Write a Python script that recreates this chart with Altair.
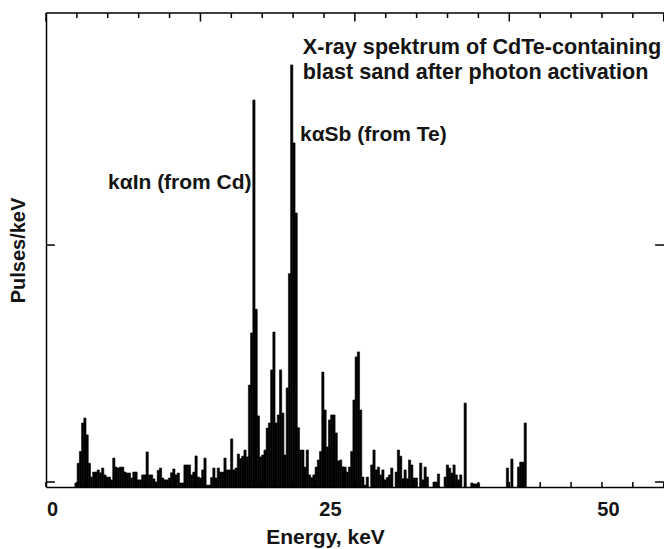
import altair as alt
import pandas as pd

# ---- data -------------------------------------------------------------
E0 = 2.4          # energy of first channel, keV
DE = 0.2          # channel width, keV
COUNTS = [
    0, 17, 100, 150, 270, 291, 220, 100, 42, 63,
    63, 72, 60, 80, 51, 42, 42, 30, 122, 84,
    80, 84, 84, 63, 59, 59, 38, 63, 63, 30,
    30, 51, 51, 148, 51, 51, 34, 21, 70, 80,
    38, 30, 30, 38, 60, 76, 51, 59, 17, 17,
    93, 93, 93, 51, 63, 131, 42, 38, 72, 122,
    8, 8, 40, 80, 38, 80, 63, 63, 122, 72,
    72, 203, 72, 80, 139, 120, 130, 156, 127, 430,
    650, 1633, 750, 300, 127, 135, 156, 249, 270, 494,
    654, 270, 304, 494, 312, 135, 418, 900, 1781, 1452,
    1156, 250, 156, 156, 84, 156, 51, 40, 51, 84,
    114, 150, 485, 325, 169, 283, 304, 304, 228, 110,
    114, 85, 84, 63, 84, 150, 367, 549, 570, 325,
    42, 8, 42, 0, 93, 156, 72, 84, 51, 72,
    30, 40, 51, 80, 0, 63, 156, 130, 35, 72,
    35, 114, 93, 38, 38, 0, 101, 30, 84, 42,
    0, 0, 21, 21, 55, 0, 0, 42, 93, 80,
    59, 93, 51, 30, 51, 0, 354, 0, 0, 17,
    13, 13, 17, 0, 0, 0, 0, 0, 0, 0,
    0, 0, 0, 0, 0, 80, 0, 118, 0, 0,
    84, 105, 105, 270, 0,
]
X_LABELS = [0, 25, 50]
Y_TICKS = [21, 1021]
X_MAX = 55.58
Y_MAX = 2000
TICK_STEP = 25 / 9
N_TICKS = 21

TITLE_1 = "X-ray spektrum of CdTe-containing"
TITLE_2 = "blast sand after photon activation"
LABEL_SB = "kαSb (from Te)"
LABEL_IN = "kαIn (from Cd)"

FONT = "Liberation Sans"
INK = "#141414"

# ---- tables -----------------------------------------------------------
bars_df = pd.DataFrame({
    "e0": [E0 + i * DE for i in range(len(COUNTS))],
    "counts": COUNTS,
})
bars_df["e1"] = bars_df["e0"] + DE
bars_df = bars_df[bars_df["counts"] > 0]

vt_rows = []
for k in range(N_TICKS):
    x = k * TICK_STEP
    ln = 36 if k % 5 == 0 else 21
    vt_rows.append({"x": x, "y": Y_MAX, "y2": Y_MAX - ln})
    vt_rows.append({"x": x, "y": 0, "y2": 21})
vt_df = pd.DataFrame(vt_rows)

ht_rows = [{"y": Y_MAX, "x": 0, "x2": X_MAX}]
for yv in Y_TICKS:
    ht_rows.append({"y": yv, "x": 0, "x2": 0.8})
    ht_rows.append({"y": yv, "x": X_MAX - 0.8, "x2": X_MAX})
ht_df = pd.DataFrame(ht_rows)

x_scale = alt.Scale(domain=[0, X_MAX], nice=False, zero=False)
y_scale = alt.Scale(domain=[0, Y_MAX], nice=False)

bars = alt.Chart(bars_df).mark_bar(
    color="black", stroke="black", strokeWidth=0.6
).encode(
    x=alt.X("e0:Q", scale=x_scale, axis=alt.Axis(
        values=X_LABELS, format="d", title="Energy, keV",
        ticks=False, tickSize=0, grid=False,
        labelFont=FONT, labelFontSize=20, labelFontWeight="bold",
        labelColor=INK, labelOffset=6, labelPadding=28,
        labelBaseline="alphabetic",
        labelFlush=False, labelOverlap=False, labelBound=False,
        domainColor="black", domainWidth=1.5,
        titleFont=FONT, titleFontSize=21, titleFontWeight="bold",
        titleColor=INK, titleX=279, titleY=56,
        titleBaseline="alphabetic",
    )),
    x2="e1:Q",
    y=alt.Y("counts:Q", scale=y_scale, axis=alt.Axis(
        values=Y_TICKS, labels=False, ticks=False, tickSize=0, grid=False,
        domainColor="black", domainWidth=1.5,
        title="Pulses/keV", titleFont=FONT, titleFontSize=20,
        titleFontWeight="bold", titleColor=INK,
        titleAngle=270, titleX=-28, titleY=237, titleBaseline="middle",
        titleAlign="center",
    )),
    y2=alt.datum(0),
)

vticks = alt.Chart(vt_df).mark_rule(color="black", strokeWidth=1.5).encode(
    x=alt.X("x:Q", scale=x_scale),
    y=alt.Y("y:Q", scale=y_scale),
    y2="y2:Q",
)
hticks = alt.Chart(ht_df).mark_rule(color="black", strokeWidth=1.5).encode(
    x=alt.X("x:Q", scale=x_scale),
    x2="x2:Q",
    y=alt.Y("y:Q", scale=y_scale),
)


def note(text, ex, cy, size):
    return alt.Chart(pd.DataFrame({"t": [text]})).mark_text(
        font=FONT, fontSize=size, fontWeight="bold", color=INK,
        align="left", baseline="middle",
    ).encode(
        x=alt.XDatum(ex, scale=x_scale),
        y=alt.YDatum(cy, scale=y_scale),
        text="t:N",
    )


chart = alt.layer(
    bars, vticks, hticks,
    note(TITLE_1, 23.1, 1853, 21.6),
    note(TITLE_2, 23.1, 1747, 21.6),
    note(LABEL_SB, 22.84, 1487, 21),
    note(LABEL_IN, 5.58, 1284, 21),
).properties(
    width=618, height=474,
    autosize=alt.AutoSizeParams(type="none"),
    padding={"left": 38, "top": 5, "right": 0, "bottom": 62},
).configure_view(stroke=None)

chart.save("out.html", embed_options={"renderer": "svg", "actions": False})
